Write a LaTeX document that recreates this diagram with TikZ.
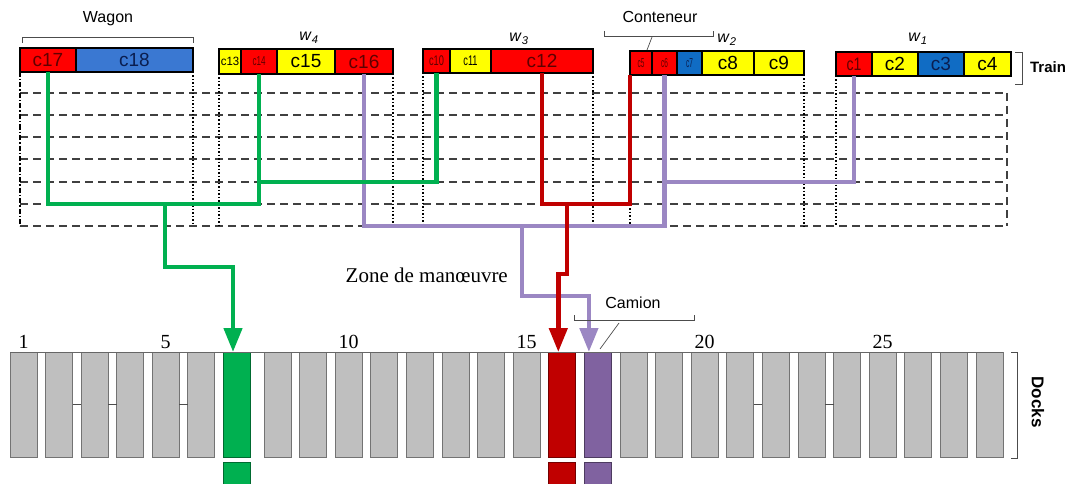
\documentclass[tikz,border=0pt]{standalone}
\usepackage{fontspec}
\setmainfont{Liberation Sans}
\newfontfamily\timesfont{Liberation Serif}
\usepackage{graphicx}
\usetikzlibrary{arrows.meta}

\definecolor{cred}{RGB}{255,0,0}
\definecolor{cyel}{RGB}{255,255,0}
\definecolor{cblue}{RGB}{58,120,210}
\definecolor{cbluedk}{RGB}{16,108,196}
\definecolor{tred}{RGB}{95,0,0}
\definecolor{tblue}{RGB}{10,30,80}
\definecolor{pgreen}{RGB}{0,176,80}
\definecolor{pred}{RGB}{192,0,0}
\definecolor{ppurple}{RGB}{155,135,195}
\definecolor{dpurple}{RGB}{128,98,160}
\definecolor{dgrey}{RGB}{191,191,191}

\begin{document}
\begin{tikzpicture}[x=1pt, y=-1pt,
  ctr/.style={draw=black, line width=1.4pt, inner sep=0pt, outer sep=0pt, anchor=north west},
  redbox/.style={fill=cred, text=tred},
  yelbox/.style={fill=cyel, text=black},
  bluebox/.style={fill=cblue, text=tblue},
  bluedkbox/.style={fill=cbluedk, text=tblue},
  dock/.style={line width=0.8pt, minimum width=27pt, minimum height=105pt, inner sep=0pt, outer sep=0pt, anchor=north west},
  lane/.style={line width=1.2pt, black!75, dash pattern=on 8pt off 5pt},
  wagonedge/.style={line width=1.4pt, dash pattern=on 1.5pt off 2pt},
  move/.style={line width=4.5pt},
  gpath/.style={move, pgreen},
  rpath/.style={move, pred},
  ppath/.style={move, ppurple},
  tip/.style={-{Triangle[width=18pt, length=24pt]}},
  brk/.style={line width=0.7pt, black!70},
  lbl/.style={font=\fontsize{16}{16}\selectfont, anchor=base, inner sep=0pt},
  numlbl/.style={font=\timesfont\fontsize{20}{20}\selectfont, anchor=base, inner sep=0pt}
]
\useasboundingbox (0,0) rectangle (1067,484);

% lanes of the shunting zone
\foreach \y in {93,115,137,159,182,204,226}
  \draw[lane] (20,\y) -- (1007,\y);
\draw[lane] (1007,93) -- (1007,226);
\coordinate (L5) at (0,182);
\coordinate (L6) at (0,204);
\coordinate (L7) at (0,226);

% containers: name/left/right/top/bottom/style/font size/x-scale
\foreach \n/\xa/\xb/\ya/\yb/\bx/\fs/\xs in {
  c17/20/76/48/72/redbox/19/1, c18/76/193/48/72/bluebox/19/1,
  c13/219/241/49/74/yelbox/12/0.95, c14/241/277/49/74/redbox/13/0.62,
  c15/277/335/49/74/yelbox/19/1, c16/335/393/49/74/redbox/19/1,
  c10/423/450/49/73/redbox/14/0.66, c11/450/491/49/73/yelbox/14/0.66,
  c12/491/593/49/73/redbox/19/1,
  c5/630/652/51/75/redbox/13/0.5, c6/652/677/51/75/redbox/13/0.5,
  c7/677/702/51/75/bluedkbox/13/0.5, c8/702/754/51/75/yelbox/19/1,
  c9/754/804/51/75/yelbox/19/1,
  c1/836/872/52/76/redbox/18/0.78, c2/872/918/52/76/yelbox/19/1,
  c3/918/964/52/76/bluedkbox/19/1, c4/964/1011/52/76/yelbox/19/1}
  \node[ctr, \bx, minimum width={(\xb-\xa)*1pt}, minimum height={(\yb-\ya)*1pt},
        font=\fontsize{\fs}{\fs}\selectfont] (\n) at (\xa,\ya) {\scalebox{\xs}[1]{\n}};

% wagon limits
\draw[line width=1.4pt, dash pattern=on 5pt off 2pt on 1.5pt off 2pt] (c17.south west) -- (c17.south west |- L7);
\foreach \a in {c18.south east, c13.south west, c16.south east, c10.south west,
                c12.south east, c5.south west, c9.south east, c1.south west}
  \draw[wagonedge] (\a) -- (\a |- L7);

% purple moves
\draw[ppath] (c16.south) |- (c6.south |- L7) -- (c6.south);
\draw[ppath] (c1.south) |- (c6.south |- L5);
\coordinate (pdrop) at (522,226);
\coordinate (pturn) at (522,296);

% green moves
\draw[gpath] (c17.south) |- (c14.south |- L6) -- (c14.south);
\draw[gpath] (c14.south |- L5) -| (c10.south);
\coordinate (gdrop) at (165,204);
\coordinate (gturn) at (165,267);

% red moves
\draw[rpath] (c12.south) |- (c5.south west |- L6) -- (c5.south west);
\coordinate (rdrop) at (567,204);
\coordinate (rjog) at (567,274);

% docks
\foreach \i in {1,...,28}{
  \pgfmathsetmacro\dx{\i<8 ? 10+(\i-1)*35.5 : 264+(\i-8)*35.6}
  \def\dcol{dgrey}
  \ifnum\i=7 \def\dcol{pgreen}\fi
  \ifnum\i=16 \def\dcol{pred}\fi
  \ifnum\i=17 \def\dcol{dpurple}\fi
  \node[dock, fill=\dcol, draw=\dcol!60!black] (d\i) at (\dx,352) {};
}
\draw[line width=0.8pt, black!60] (d1.north west) -- (d28.north east);
\foreach \a/\b in {2/3, 3/4, 5/6, 21/22, 23/24}
  \draw[line width=0.8pt, black!70] (d\a.east) -- (d\b.west);
\foreach \i/\col in {7/pgreen, 16/pred, 17/dpurple}
  \node[dock, fill=\col, draw=\col!60!black, minimum height=30pt, anchor=north] (t\i) at ([yshift=-5pt]d\i.south) {};
\foreach \i in {1,5,10,15,20,25}
  \node[numlbl] (n\i) at ([yshift=4pt]d\i.north) {\i};

% drops to the docks
\draw[ppath, tip] (pdrop) -- (pturn) -| ([xshift=-9pt]d17.north);
\draw[gpath, tip] (gdrop) -- (gturn) -| ([xshift=-3.5pt]d7.north);
\draw[rpath, tip] (rdrop) -- (rjog) -| ([xshift=-4pt]d16.north);

% labels
\node[lbl] (wagon) at (108,23) {Wagon};
\node[lbl] (conteneur) at (660,23) {Conteneur};
\node[lbl] (camion) at (633,308) {Camion};
\node[lbl, font=\fontsize{15}{15}\selectfont\bfseries] (train) at (1048,73) {Train};
\node[font=\fontsize{17}{17}\selectfont\bfseries, rotate=-90] (docks) at (1038,402) {Docks};
\node[lbl] (w4) at (309,41) {\textit{w}\textsubscript{\textit{4}}};
\node[lbl] (w3) at (519,42) {\textit{w}\textsubscript{\textit{3}}};
\node[lbl] (w2) at (727,43) {\textit{w}\textsubscript{\textit{2}}};
\node[lbl] (w1) at (918,42) {\textit{w}\textsubscript{\textit{1}}};
\node[font=\timesfont\fontsize{21}{21}\selectfont, anchor=base east, inner sep=0pt] (zone) at (508,282) {Zone de manœuvre};

% brackets
\draw[brk] (22,43) -- (22,37) -- (193,37) -- (193,43);
\draw[brk] (604,31) -- (604,36) -- (713,36) -- (713,31);
\draw[brk] (652,37) -- (647,50);
\draw[brk] (574,315) -- (574,320) -- (694,320) -- (694,315);
\draw[brk] (619,323) -- (600,349);
\draw[brk] (1015,52) -- (1022,52) -- (1022,84) -- (1015,84);
\draw[brk] (1011,352) -- (1017,352) -- (1017,458) -- (1011,458);
\end{tikzpicture}
\end{document}
